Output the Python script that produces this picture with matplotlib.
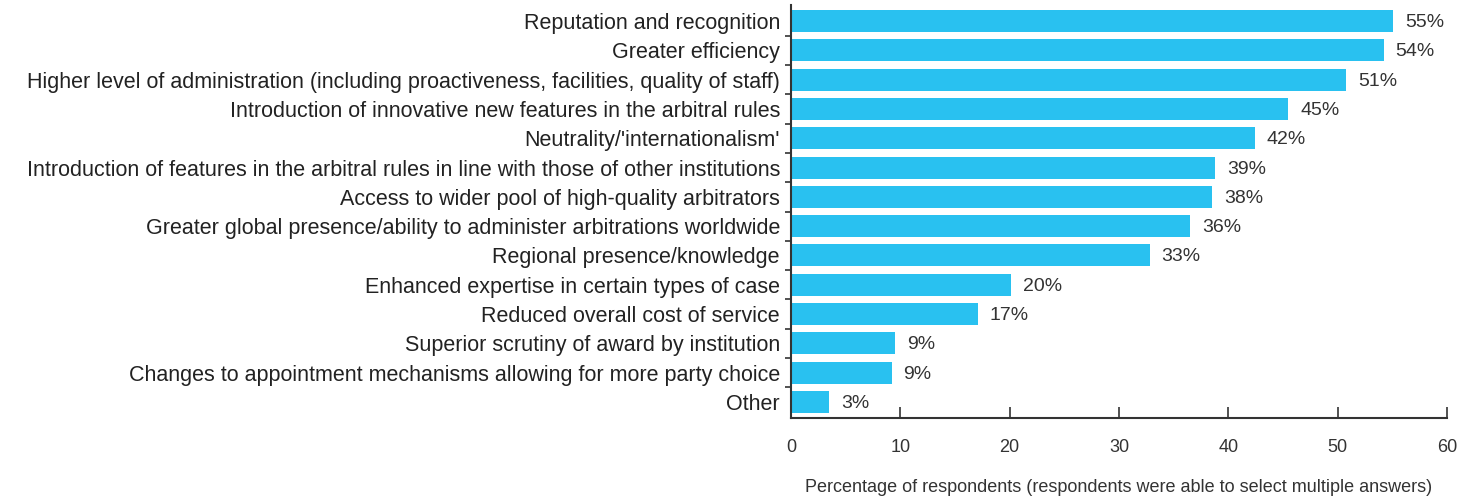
import matplotlib
matplotlib.use('Agg')
import matplotlib.pyplot as plt
import numpy as np

# données
categories = [
    "Reputation and recognition",
    "Greater efficiency",
    "Higher level of administration (including proactiveness, facilities, quality of staff)",
    "Introduction of innovative new features in the arbitral rules",
    "Neutrality/'internationalism'",
    "Introduction of features in the arbitral rules in line with those of other institutions",
    "Access to wider pool of high-quality arbitrators",
    "Greater global presence/ability to administer arbitrations worldwide",
    "Regional presence/knowledge",
    "Enhanced expertise in certain types of case",
    "Reduced overall cost of service",
    "Superior scrutiny of award by institution",
    "Changes to appointment mechanisms allowing for more party choice",
    "Other",
]
bar_values = [55.1, 54.2, 50.8, 45.5, 42.4, 38.8, 38.5, 36.5, 32.8, 20.1, 17.1, 9.5, 9.2, 3.5]
label_values = [55, 54, 51, 45, 42, 39, 38, 36, 33, 20, 17, 9, 9, 3]
xticks = [0, 10, 20, 30, 40, 50, 60]

plt.rcParams['font.family'] = ['Liberation Sans', 'DejaVu Sans']

fig = plt.figure(figsize=(14.79, 4.97), dpi=100)
ax = fig.add_axes([791 / 1479, 1 - 418 / 497, 656 / 1479, 413 / 497])

y = np.arange(len(categories))
ax.barh(y, bar_values, height=0.75, color='#29C1F0')

for yi, v, lab in zip(y, bar_values, label_values):  # étiquettes de valeur
    ax.text(v + 1.1, yi + 0.05, f"{lab}%", va='center', ha='left', fontsize=14, color='#333333')

ax.set_xlim(0, 60)
ax.set_ylim(len(categories) - 0.45, -0.55)
ax.set_yticks(y)
ax.set_yticklabels(categories, fontsize=15.5, color='#222222')
ax.set_yticks(y[:-1] + 0.5, minor=True)
ax.tick_params(axis='y', which='major', length=0, pad=8)
ax.tick_params(axis='y', which='minor', direction='out', length=4, width=1.2, color='#333333')

ax.set_xticks(xticks)
ax.set_xticklabels([str(t) for t in xticks], fontsize=13, color='#333333')
ax.tick_params(axis='x', direction='in', length=8, width=1.2, color='#333333', pad=15)
ax.set_xlabel("Percentage of respondents (respondents were able to select multiple answers)",
              fontsize=13, color='#333333', labelpad=17)

for s in ['top', 'right']:
    ax.spines[s].set_visible(False)
for s in ['left', 'bottom']:
    ax.spines[s].set_color('#333333')
    ax.spines[s].set_linewidth(1.5)

fig.savefig('out.png', dpi=100)
